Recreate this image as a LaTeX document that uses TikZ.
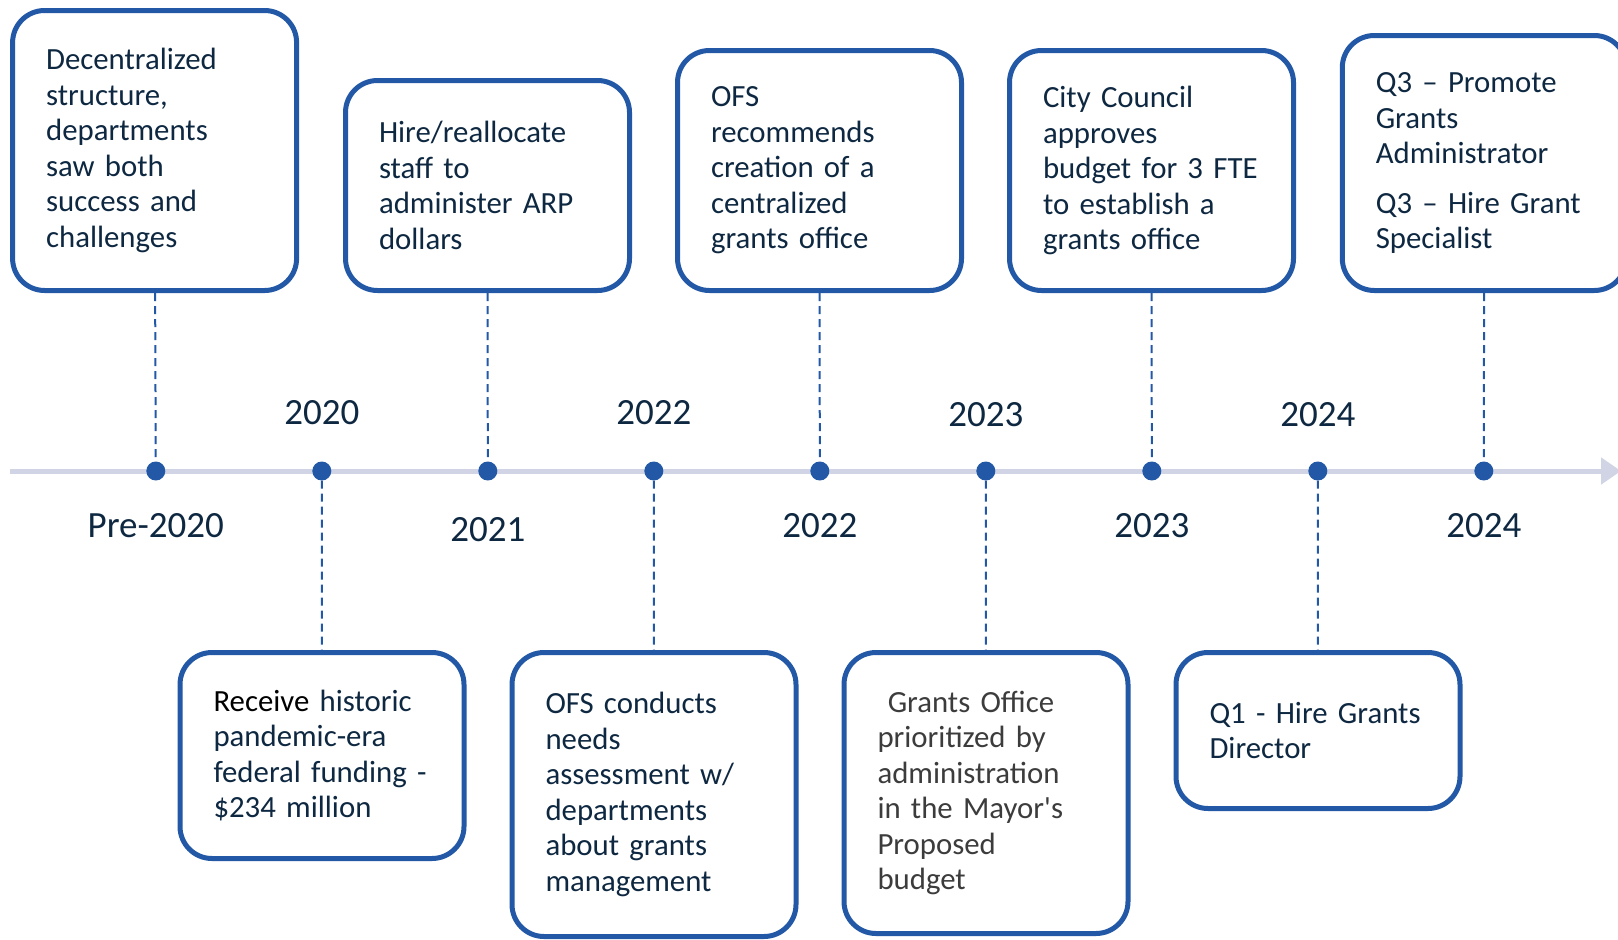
\documentclass[tikz,border=0pt]{standalone}
\usepackage{fontspec}
\setmainfont{Carlito}
\usetikzlibrary{arrows.meta}
\definecolor{boxblue}{RGB}{34,88,166}
\definecolor{navytext}{RGB}{14,40,65}
\definecolor{axisgray}{RGB}{208,212,228}
\definecolor{softblack}{RGB}{60,60,60}

\begin{document}
\begin{tikzpicture}[x=1pt, y=-1pt,
    eventbox/.style={draw=boxblue, line width=5pt, rounded corners=32pt, fill=white,
      text width=217pt, inner xsep=33.5pt, inner ysep=0pt, align=left, text=navytext,
      font=\fontsize{30.8}{35.5}\selectfont},
    evdot/.style={circle, fill=boxblue, inner sep=0pt, minimum size=19pt},
    stemline/.style={boxblue, line width=2pt, dash pattern=on 8pt off 5pt},
    yearlbl/.style={text=navytext, inner sep=0pt, font=\fontsize{37}{44}\selectfont}]
    \useasboundingbox (0,0) rectangle (1618,940);
    % time axis
    \coordinate (axstart) at (10,471); \coordinate (axend) at (1621,471);
    \draw[axisgray, line width=5pt, -{Triangle[length=20pt, width=26pt]}] (axstart) -- (axend);
    \node[evdot] (d1) at (155.8,471) {}; \node[evdot] (d2) at (321.8,471) {}; \node[evdot] (d3) at (487.8,471) {};
    \node[evdot] (d4) at (653.8,471) {}; \node[evdot] (d5) at (819.8,471) {}; \node[evdot] (d6) at (985.8,471) {};
    \node[evdot] (d7) at (1151.8,471) {}; \node[evdot] (d8) at (1317.8,471) {}; \node[evdot] (d9) at (1483.8,471) {};
    % years
    \node[yearlbl] (y2020) at (321.8,413) {2020}; \node[yearlbl] (y2022a) at (653.8,413) {2022};
    \node[yearlbl] (y2023a) at (985.8,415) {2023}; \node[yearlbl] (y2024a) at (1317.8,415) {2024};
    \node[yearlbl] (ypre) at (155.8,526) {Pre-2020}; \node[yearlbl] (y2021) at (487.8,530) {2021};
    \node[yearlbl] (y2022b) at (819.8,526) {2022}; \node[yearlbl] (y2023b) at (1151.8,526) {2023};
    \node[yearlbl] (y2024b) at (1483.8,526) {2024};
    % boxes above the axis
    \node[eventbox, anchor=south, minimum height=280pt] (b1) at (154.6,293)
      {Decentralized\\ structure,\\ departments\\ saw both\\ success and\\ challenges};
    \node[eventbox, anchor=south, minimum height=210pt] (b2) at (487.5,293)
      {Hire/reallocate\\ staff to\\ administer ARP\\ dollars};
    \node[eventbox, anchor=south, minimum height=240pt] (b3) at (819.5,293)
      {OFS\\ recommends\\ creation of a\\ centralized\\ grants office};
    \node[eventbox, anchor=south, minimum height=240pt] (b4) at (1151.5,293)
      {City Council\\ approves\\ budget for 3 FTE\\ to establish a\\ grants office};
    \node[eventbox, anchor=south, minimum height=255pt] (b5) at (1484.3,293)
      {Q3 – Promote\\ Grants\\ Administrator\\[14pt] Q3 – Hire Grant\\ Specialist};
    % boxes below the axis
    \node[eventbox, anchor=north, minimum height=206pt] (b6) at (322,650)
      {\textcolor{black}{Receive} historic\\ pandemic-era\\ federal funding -\\ \$234 million};
    \node[eventbox, anchor=north, minimum height=284pt] (b7) at (654,650)
      {OFS conducts\\ needs\\ assessment w/\\ departments\\ about grants\\ management};
    \node[eventbox, anchor=north, minimum height=281pt, text=softblack] (b8) at (986,650)
      {\ Grants Office\\ prioritized by\\ administration\\ in the Mayor\textquotesingle s\\ Proposed\\ budget};
    \node[eventbox, anchor=north, minimum height=156pt] (b9) at (1318,650)
      {Q1 - Hire Grants\\ Director};
    % stems
    \draw[stemline] (b1) -- (d1); \draw[stemline] (b2) -- (d3); \draw[stemline] (b3) -- (d5);
    \draw[stemline] (b4) -- (d7); \draw[stemline] (b5) -- (d9);
    \draw[stemline] (d2) -- (b6); \draw[stemline] (d4) -- (b7); \draw[stemline] (d6) -- (b8);
    \draw[stemline] (d8) -- (b9);
\end{tikzpicture}
\end{document}
